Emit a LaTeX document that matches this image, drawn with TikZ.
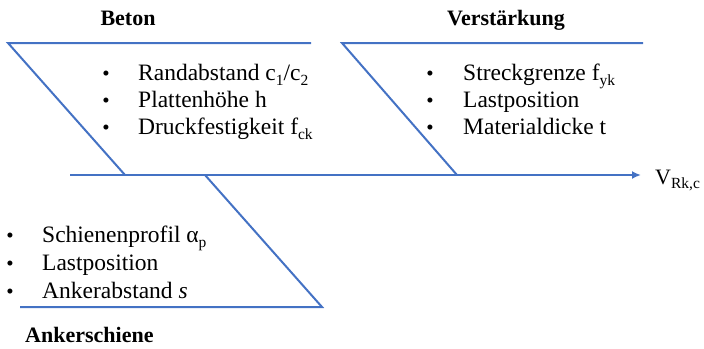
\documentclass[tikz,border=0pt]{standalone}
\usepackage{fontspec}
\setmainfont{Liberation Serif}
\usetikzlibrary{arrows.meta}
\definecolor{bone}{HTML}{4472C4}
\tikzset{
  boneline/.style={draw=bone, line width=2pt},
  item/.style={anchor=base west, inner sep=0pt, font=\fontsize{23.5}{27}\selectfont},
  dot/.style={anchor=base, inner sep=0pt, font=\fontsize{21}{27}\selectfont},
  heading/.style={anchor=base, inner sep=0pt, font=\fontsize{22}{26}\selectfont\bfseries},
}
\newcommand{\lowsub}[1]{\raisebox{-0.22em}{\fontsize{15.5}{18}\selectfont #1}}
\begin{document}
\begin{tikzpicture}[x=1pt, y=-1pt]
\useasboundingbox (0,0) rectangle (704,348);
% skeleton points
\coordinate (betonL) at (8,43);
\coordinate (betonR) at (311,43);
\coordinate (betonJ) at (125,175);
\coordinate (verL) at (342,43);
\coordinate (verR) at (643,43);
\coordinate (verJ) at (457,175);
\coordinate (ankJ) at (205,175);
\coordinate (ankB) at (322,307);
\coordinate (ankL) at (20,307);
\coordinate (spineL) at (70,175);
\coordinate (spineR) at (641,175);
% branches
\draw[boneline] (betonR) -- (betonL) -- (betonJ);
\draw[boneline] (verR) -- (verL) -- (verJ);
\draw[boneline] (ankJ) -- (ankB) -- (ankL);
\draw[boneline, -{Latex[length=9pt, width=8pt]}] (spineL) -- (spineR);
% headings
\node[heading] (hbeton) at (128,25) {Beton};
\node[heading] (hver) at (506,25) {Verstärkung};
\node[heading, anchor=base west] (hank) at (25,342) {Ankerschiene};
\node[anchor=base west, inner sep=0pt, font=\fontsize{22}{26}\selectfont] (vrk) at (655,184) {V\lowsub{Rk,c}};
% Beton list
\node[dot] (b1) at (106,80) {\textbullet};
\node[dot] (b2) at (106,107) {\textbullet};
\node[dot] (b3) at (106,134) {\textbullet};
\node[item] (t1) at (138,80) {Randabstand c\lowsub{1}/c\lowsub{2}};
\node[item] (t2) at (138,107) {Plattenhöhe h};
\node[item] (t3) at (138,134) {Druckfestigkeit f\lowsub{ck}};
% Verstärkung list
\node[dot] (v1) at (430,80) {\textbullet};
\node[dot] (v2) at (430,107) {\textbullet};
\node[dot] (v3) at (430,134) {\textbullet};
\node[item] (s1) at (463,80) {Streckgrenze f\lowsub{yk}};
\node[item] (s2) at (463,107) {Lastposition};
\node[item] (s3) at (463,134) {Materialdicke t};
% Ankerschiene list
\node[dot] (a1) at (10,242) {\textbullet};
\node[dot] (a2) at (10,270) {\textbullet};
\node[dot] (a3) at (10,298) {\textbullet};
\node[item] (r1) at (42,242) {Schienenprofil α\lowsub{p}};
\node[item] (r2) at (42,270) {Lastposition};
\node[item] (r3) at (42,298) {Ankerabstand \textit{s}};
\end{tikzpicture}
\end{document}
